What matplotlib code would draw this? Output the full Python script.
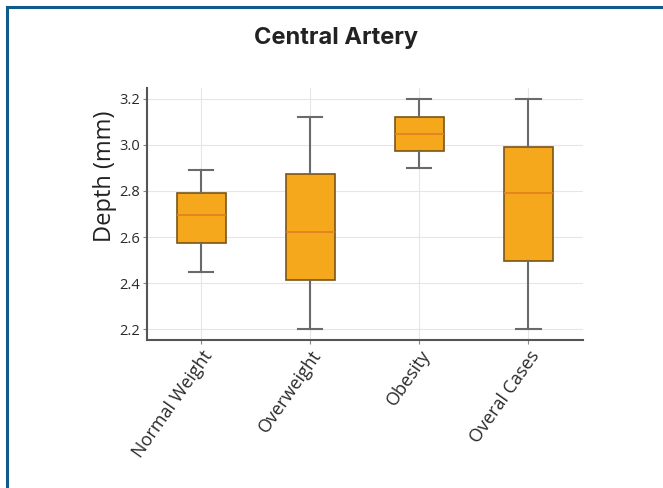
import matplotlib.pyplot as plt
from matplotlib.patches import Rectangle

categories = ["Normal Weight", "Overweight", "Obesity", "Overal Cases"]
whislo = [2.45, 2.20, 2.90, 2.20]
q1 = [2.573, 2.412, 2.974, 2.494]
med = [2.694, 2.623, 3.048, 2.790]
q3 = [2.792, 2.873, 3.123, 2.993]
whishi = [2.89, 3.123, 3.20, 3.20]

stats = []
for i in range(len(categories)):
    stats.append({"label": categories[i], "whislo": whislo[i], "q1": q1[i],
                  "med": med[i], "q3": q3[i], "whishi": whishi[i], "fliers": []})

fig = plt.figure(figsize=(6.63, 4.88), dpi=100)
fig.patch.set_facecolor("white")
ax = fig.add_axes([0.221, 0.303, 0.658, 0.517])

ax.bxp(stats, widths=0.45, patch_artist=True, showfliers=False,
       boxprops=dict(facecolor="#f5a81c", edgecolor="#7a5416", linewidth=1.2),
       medianprops=dict(color="#e07f22", linewidth=1.2),
       whiskerprops=dict(color="#6a6a6a", linewidth=1.5),
       capprops=dict(color="#6a6a6a", linewidth=1.5))

ax.set_xlim(0.5, 4.5)
ax.set_ylim(2.152, 3.248)
ax.set_yticks([2.2, 2.4, 2.6, 2.8, 3.0, 3.2])
ax.set_yticklabels(["2.2", "2.4", "2.6", "2.8", "3.0", "3.2"])
ax.set_xticklabels(categories, rotation=55, ha="right", rotation_mode="anchor",
                   fontsize=13, family="Open Sans", color="#2a2a2a")
for lab in ax.get_yticklabels():
    lab.set_fontsize(10.5)
    lab.set_family("Open Sans")
    lab.set_color("#2a2a2a")

ax.grid(True, color="#e6e6e6", linewidth=0.8)
ax.set_axisbelow(True)
for s in ["top", "right"]:
    ax.spines[s].set_visible(False)
for s in ["left", "bottom"]:
    ax.spines[s].set_color("#555555")
    ax.spines[s].set_linewidth(1.5)
ax.tick_params(length=3, width=0.8, color="#888888", pad=2)

ax.set_ylabel("Depth (mm)", fontsize=17, family="Open Sans", color="#222222")
ax.yaxis.set_label_coords(-0.068, 0.651)
fig.text(0.507, 0.922, "Central Artery", ha="center", va="center",
         fontsize=17, fontweight="bold", family="Inter", color="#222222")

# blue frame on left and top
fig.add_artist(Rectangle((0.0105, -0.01), 2, 0.995, transform=fig.transFigure,
                         fill=False, edgecolor="#0f5b8b", linewidth=2.2))

fig.savefig("out.png", dpi=100)
